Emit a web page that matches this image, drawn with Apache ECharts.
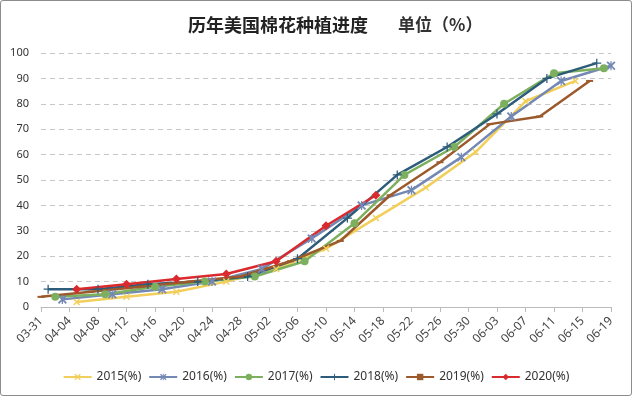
<!DOCTYPE html>
<html>
<head>
<meta charset="utf-8">
<script src="https://cdn.jsdelivr.net/npm/echarts@6/dist/echarts.min.js"></script>
<style>
html,body{margin:0;padding:0;background:#fff;}
#main{position:absolute;left:0;top:0;width:630px;height:394px;border:1px solid #8c8c8c;border-radius:3px;}
</style>
</head>
<body>
<div id="main"></div>
<script>
// x axis tick labels, every 4 days from 03-31
var tickLabels = ['03-31','04-04','04-08','04-12','04-16','04-20','04-24','04-28','05-02','05-06','05-10',
    '05-14','05-18','05-22','05-26','05-30','06-03','06-07','06-11','06-15','06-19'];

var dates2015 = ['04-05','04-12','04-19','04-26','05-03','05-10','05-17','05-24','05-31','06-07','06-14'];
var vals2015  = [2, 4, 6, 10, 15, 23, 35, 47, 61, 81, 89];

var dates2016 = ['04-03','04-10','04-17','04-24','05-01','05-08','05-15','05-22','05-29','06-05','06-12','06-19'];
var vals2016  = [3, 5, 7, 10, 15, 27, 40, 46, 59, 75, 89, 95];

var dates2017 = ['04-02','04-09','04-16','04-23','04-30','05-07','05-14','05-21','05-28','06-04','06-11','06-18'];
var vals2017  = [4, 5, 8, 10, 12, 18, 33, 52, 63, 80, 92, 94];

var dates2018 = ['04-01','04-08','04-15','04-22','04-29','05-06','05-13','05-20','05-27','06-03','06-10','06-17'];
var vals2018  = [7, 7, 9, 10, 12, 19, 35, 52, 63, 76, 90, 96];

var dates2019 = ['03-31','04-07','04-14','04-21','04-28','05-05','05-12','05-19','05-26','06-02','06-09','06-16'];
var vals2019  = [4, 6, 8, 10, 12, 18, 26, 44, 57, 72, 75, 89];

var dates2020 = ['04-05','04-12','04-19','04-26','05-03','05-10','05-17'];
var vals2020  = [7, 9, 11, 13, 18, 32, 44];

// days since 03-31
function dayOf(s){
    var p = s.split('-');
    var d = new Date(2001, parseInt(p[0],10)-1, parseInt(p[1],10));
    var start = new Date(2001, 2, 31);
    return Math.round((d - start) / 86400000);
}
function pairs(dates, vals){
    var out = [];
    for (let i = 0; i < dates.length; i++) {
        out.push([dayOf(dates[i]), vals[i]]);
    }
    return out;
}

var symX = 'path://M0,1.4 L1.4,0 L5,3.6 L8.6,0 L10,1.4 L6.4,5 L10,8.6 L8.6,10 L5,6.4 L1.4,10 L0,8.6 L3.6,5 Z';
var symStar = 'path://M0,1.4 L1.4,0 L4.3,2.9 L4.3,0 L5.7,0 L5.7,2.9 L8.6,0 L10,1.4 L6.4,5 L10,8.6 L8.6,10 L5.7,7.1 L5.7,10 L4.3,10 L4.3,7.1 L1.4,10 L0,8.6 L3.6,5 Z';
var symPlus = 'path://M4.3,0 L5.7,0 L5.7,4.3 L10,4.3 L10,5.7 L5.7,5.7 L5.7,10 L4.3,10 L4.3,5.7 L0,5.7 L0,4.3 L4.3,4.3 Z';

function mkSeries(name, dates, vals, color, symbol, size){
    return {
        name: name,
        type: 'line',
        data: pairs(dates, vals),
        symbol: symbol,
        symbolSize: size,
        showAllSymbol: true,
        lineStyle: { color: color, width: 2.5 },
        itemStyle: { color: color },
        emphasis: { disabled: true }
    };
}

var chart = echarts.init(document.getElementById('main'));
var op = {
    animation: false,
    title: {
        text: '{a|历年美国棉花种植进度}      {b|单位（%）}',
        left: 182,
        top: 10,
        textStyle: {
            rich: {
                a: { fontFamily: 'Noto Sans CJK SC', fontSize: 18, fontWeight: 'bold', color: '#222' },
                b: { fontFamily: 'Noto Sans CJK SC', fontSize: 17, color: '#333' }
            }
        }
    },
    legend: {
        bottom: 7,
        left: 'center',
        itemWidth: 28,
        itemHeight: 8,
        itemGap: 7,
        textStyle: { fontFamily: 'Noto Sans', fontSize: 12, color: '#333' },
        data: ['2015(%)','2016(%)','2017(%)','2018(%)','2019(%)','2020(%)']
    },
    grid: { left: 40, right: 20, top: 52, bottom: 88 },
    xAxis: {
        type: 'value',
        min: 0,
        max: 80,
        interval: 4,
        axisLine: { show: true, lineStyle: { color: '#bbb' } },
        axisTick: { show: true, length: 5, lineStyle: { color: '#bbb' } },
        splitLine: { show: false },
        axisLabel: {
            rotate: 45,
            margin: 12,
            fontFamily: 'Noto Sans',
            fontSize: 12,
            color: '#444',
            formatter: function (v) { return tickLabels[Math.round(v / 4)]; }
        }
    },
    yAxis: {
        type: 'value',
        min: 0,
        max: 100,
        interval: 10,
        axisLine: { show: false },
        axisTick: { show: false },
        axisLabel: { fontFamily: 'Noto Sans', fontSize: 11, color: '#333', margin: 12 },
        splitLine: { lineStyle: { color: '#c8c8c8', type: [5, 4] } }
    },
    series: [
        mkSeries('2015(%)', dates2015, vals2015, '#F2CF5B', symX, 7),
        mkSeries('2016(%)', dates2016, vals2016, '#7488B4', symStar, 9),
        mkSeries('2017(%)', dates2017, vals2017, '#7DB05E', 'circle', 8),
        mkSeries('2018(%)', dates2018, vals2018, '#2D5C7A', symPlus, 9),
        mkSeries('2019(%)', dates2019, vals2019, '#9C5A2C', 'rect', [7, 2]),
        mkSeries('2020(%)', dates2020, vals2020, '#D92A2E', 'diamond', 9)
    ]
};
chart.setOption(op);
</script>
</body>
</html>
